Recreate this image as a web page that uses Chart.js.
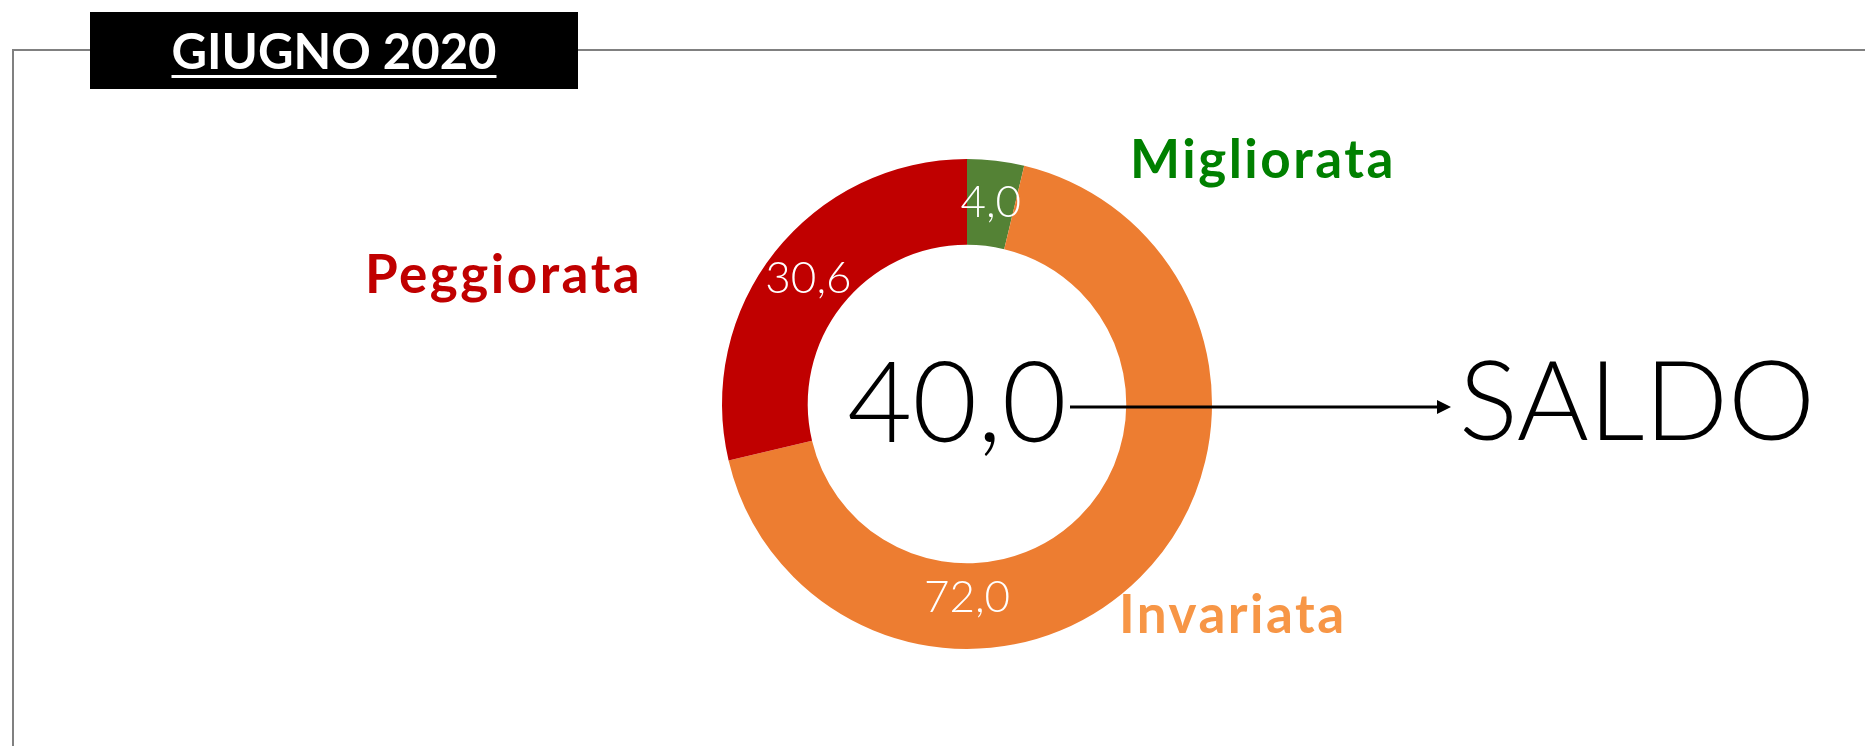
<!DOCTYPE html>
<html>
<head>
<meta charset="utf-8">
<script src="https://cdn.jsdelivr.net/npm/chart.js@4/dist/chart.umd.min.js"></script>
<style>
  html, body { margin: 0; padding: 0; background: #fff; overflow: hidden; }
  body { width: 1865px; height: 746px; position: relative; }
  .frame {
    position: absolute; left: 12px; top: 49px; width: 2000px; height: 1000px;
    border-top: 2px solid #808080; border-left: 2px solid #808080;
  }
  .chart-wrap { position: absolute; left: 0; top: 0; width: 1865px; height: 746px; }
  .title-box {
    position: absolute; left: 90px; top: 12px; width: 488px; height: 77px;
    background: #000; color: #fff; text-align: center;
    font-family: Lato, 'DejaVu Sans', sans-serif; font-weight: 700; font-size: 49px;
    line-height: 77px;
  }
  .title-box span { text-decoration: underline; text-decoration-thickness: 3px; text-underline-offset: 6px; }
</style>
</head>
<body>
<div class="frame"></div>
<div class="chart-wrap"><canvas id="donut"></canvas></div>
<div class="title-box"><span>GIUGNO 2020</span></div>
<script>
// Data
const categories = ['Migliorata', 'Invariata', 'Peggiorata'];
const values = [4.0, 72.0, 30.6];
const sliceColors = ['#548235', '#ED7D31', '#C00000'];
const nameColors = ['#008000', '#F79646', '#C00000'];
const saldoValue = 40.0;
const saldoLabel = 'SALDO';

const fmt = v => v.toFixed(1).replace('.', ',');

// Draws value labels on the slices and the side annotations
const annotations = {
  id: 'annotations',
  afterDraw(chart) {
    const ctx = chart.ctx;
    const arcs = chart.getDatasetMeta(0).data;
    ctx.save();

    // values on slices
    ctx.fillStyle = '#fff';
    ctx.font = '300 44px Lato, sans-serif';
    ctx.textAlign = 'center';
    ctx.textBaseline = 'middle';
    arcs.forEach((arc, i) => {
      let p = arc.tooltipPosition();
      if (i === 1) {
        // Excel puts the big slice's label at the bottom
        const r = (arc.innerRadius + arc.outerRadius) / 2 - 8;
        p = { x: arc.x, y: arc.y + r };
      }
      ctx.fillText(fmt(values[i]), p.x, p.y);
    });

    // category names
    ctx.textAlign = 'left';
    ctx.textBaseline = 'alphabetic';
    ctx.font = '700 53px Lato, sans-serif';
    ctx.letterSpacing = '2.5px';
    const namePos = [[1130, 178], [1119, 633], [365, 293]];
    categories.forEach((c, i) => {
      ctx.fillStyle = nameColors[i];
      ctx.fillText(c, namePos[i][0], namePos[i][1]);
    });
    ctx.letterSpacing = '0px';

    // saldo in the middle
    ctx.fillStyle = '#000';
    ctx.font = '300 112px Lato, sans-serif';
    ctx.textAlign = 'center';
    ctx.fillText(fmt(saldoValue), 957, 442);

    ctx.textAlign = 'left';
    ctx.font = '300 110px Lato, sans-serif';
    ctx.fillText(saldoLabel, 1459, 440);

    // arrow
    ctx.strokeStyle = '#000';
    ctx.lineWidth = 3;
    ctx.beginPath();
    ctx.moveTo(1070, 407);
    ctx.lineTo(1440, 407);
    ctx.stroke();
    ctx.beginPath();
    ctx.moveTo(1451, 407);
    ctx.lineTo(1437, 400);
    ctx.lineTo(1437, 414);
    ctx.closePath();
    ctx.fill();

    ctx.restore();
  }
};

new Chart(document.getElementById('donut'), {
  type: 'doughnut',
  data: {
    labels: categories,
    datasets: [{ data: values, backgroundColor: sliceColors, borderWidth: 0 }]
  },
  options: {
    responsive: true,
    maintainAspectRatio: false,
    animation: false,
    cutout: '65%',
    layout: { padding: { left: 722, top: 159, right: 653, bottom: 97 } },
    plugins: { legend: { display: false }, tooltip: { enabled: false } }
  },
  plugins: [annotations]
});
</script>
</body>
</html>
